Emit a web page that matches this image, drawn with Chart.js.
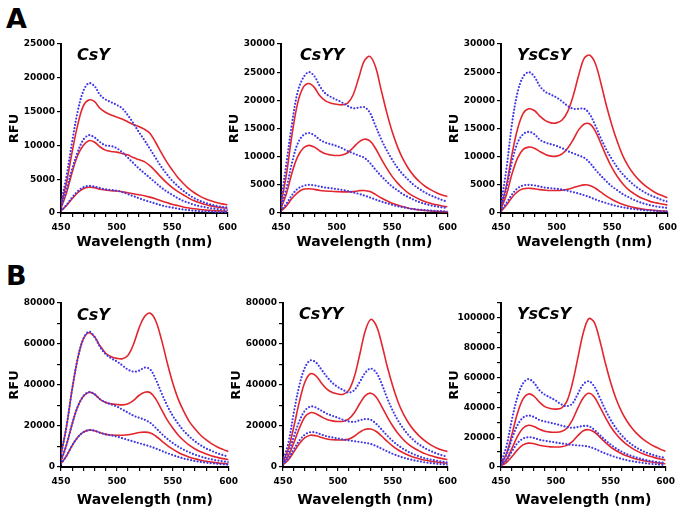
<!DOCTYPE html>
<html>
<head>
<meta charset="utf-8">
<script src="https://cdn.jsdelivr.net/npm/chart.js@4.4.1/dist/chart.umd.min.js"></script>
<style>
  html, body { margin: 0; padding: 0; background: #fff; }
  body { width: 679px; height: 510px; position: relative; overflow: hidden; }
  canvas { position: absolute; }
  .lbl { position: absolute; font-family: "DejaVu Sans", sans-serif; font-weight: bold; line-height: 1; color: #000; white-space: nowrap; }
  .ttl { font-style: italic; font-size: 16px; }
  .panel { font-size: 27px; }
</style>
</head>
<body>
<div class="lbl panel" style="left:6px;top:5px;">A</div>
<div class="lbl panel" style="left:6px;top:262px;">B</div>

<script>
// Wavelength grid (nm)
const wavelengths = [450,455,460,465,470,475,480,485,490,495,500,505,510,515,520,525,530,535,540,545,550,555,560,565,570,575,580,585,590,595,600];
const xTickLabels = [450, 500, 550, 600];
const panelTitles = ["CsY", "CsYY", "YsCsY", "CsY", "CsYY", "YsCsY"];

// ---- Panel A, CsY ----
const aCsY_red1  = [1200,4500,9000,13000,15800,16700,16500,15500,14900,14500,14200,13900,13500,13100,12800,12400,11800,10500,9000,7600,6400,5300,4400,3600,3000,2500,2100,1800,1550,1350,1200];
const aCsY_red2  = [700,3000,6000,8500,10000,10700,10500,9800,9300,9100,9000,8800,8600,8200,7900,7600,7000,6200,5300,4500,3800,3200,2700,2200,1800,1500,1250,1050,900,800,700];
const aCsY_red3  = [300,1100,2100,3000,3600,3800,3750,3500,3400,3300,3250,3150,3000,2850,2700,2550,2350,2100,1800,1550,1300,1100,900,750,620,520,440,380,330,290,260];
const aCsY_blue1 = [1500,5500,10500,15000,18000,19200,18800,17500,16800,16400,16000,15500,14500,13300,12000,10800,9500,8200,6900,5800,4800,4000,3300,2700,2200,1800,1500,1250,1050,900,800];
const aCsY_blue2 = [800,3500,6500,9000,10800,11500,11200,10500,10000,9900,9600,9000,8200,7400,6600,5900,5200,4500,3800,3200,2700,2200,1800,1500,1200,1000,850,700,600,500,450];
const aCsY_blue3 = [300,1200,2300,3200,3800,4000,3900,3700,3500,3400,3300,3100,2800,2500,2200,1900,1650,1400,1150,950,800,650,520,420,340,280,230,190,160,140,120];

// ---- Panel A, CsYY ----
const aCsYY_red1  = [1500,7000,14000,19500,22300,23000,22300,20800,19900,19500,19300,19200,19500,21000,24000,27000,27800,26000,22000,18000,14500,11700,9500,7800,6500,5500,4700,4100,3600,3200,2900];
const aCsYY_red2  = [800,3500,7200,10000,11500,12000,11700,11000,10500,10300,10200,10300,10700,11600,12600,13100,12800,11500,9700,8000,6500,5300,4300,3500,2900,2400,2000,1700,1450,1250,1100];
const aCsYY_red3  = [300,1300,2600,3600,4200,4300,4200,4000,3900,3850,3800,3750,3750,3800,3950,4000,3800,3300,2700,2200,1750,1400,1100,850,680,540,440,360,300,250,200];
const aCsYY_blue1 = [2000,9000,16000,21500,24000,25000,24300,22500,21200,20600,20100,19600,19000,18600,18700,18800,17800,15500,13200,11200,9500,8000,6800,5800,4900,4200,3600,3100,2700,2300,2000];
const aCsYY_blue2 = [1000,4500,9000,12300,13800,14200,13800,13000,12500,12200,11900,11500,11000,10600,10200,9800,8900,7700,6600,5600,4700,4000,3300,2800,2300,1900,1600,1350,1150,1000,900];
const aCsYY_blue3 = [400,1700,3200,4300,4800,5000,4900,4700,4500,4400,4250,4100,3900,3650,3400,3100,2750,2400,2050,1750,1450,1200,1000,830,690,580,490,420,360,310,270];

// ---- Panel A, YsCsY ----
const aYsCsY_red1  = [1000,5000,10500,15000,17700,18500,18200,17200,16400,16000,16000,16500,18000,20800,24500,27500,28000,26500,23000,19000,15500,12500,10000,8200,6800,5700,4800,4100,3500,3100,2700];
const aYsCsY_red2  = [700,3300,7000,9800,11300,11700,11500,10900,10400,10100,10100,10500,11500,13000,14800,15800,15800,14500,12300,10000,8000,6400,5100,4100,3400,2800,2400,2000,1800,1600,1400];
const aYsCsY_red3  = [300,1400,2800,3800,4300,4400,4300,4150,4050,4000,4000,4050,4200,4500,4800,5000,4900,4400,3700,3000,2400,1900,1500,1200,950,770,630,520,430,360,300];
const aYsCsY_blue1 = [1500,8000,16000,21500,24200,25000,24200,22500,21500,21000,20500,19800,19000,18500,18500,18500,17500,15500,13200,11200,9500,8000,6800,5800,4900,4200,3600,3100,2700,2300,2000];
const aYsCsY_blue2 = [1000,4500,9200,12500,14000,14400,14000,13000,12500,12200,11900,11500,11000,10600,10200,9800,8900,7700,6600,5600,4700,4000,3300,2800,2300,1900,1600,1350,1150,1000,900];
const aYsCsY_blue3 = [400,1800,3300,4400,4900,5000,4900,4700,4500,4400,4300,4150,3950,3700,3450,3150,2800,2400,2050,1750,1450,1200,1000,830,690,580,490,420,360,310,270];

// ---- Panel B, CsY ----
const bCsY_red1  = [6000,20000,38000,53000,62500,65500,63500,59000,55500,53800,53000,52800,54500,60000,68000,73500,75000,71000,62000,51000,41000,33000,27000,22000,18500,15500,13200,11300,9800,8600,7500];
const bCsY_red2  = [3000,11000,21000,29500,34500,36500,35500,33000,31500,30800,30500,30300,30800,32500,35000,36500,36200,33000,28000,23000,19000,15500,12800,10500,8800,7400,6300,5400,4700,4100,3600];
const bCsY_red3  = [1500,5500,10500,14500,17000,18000,17700,16700,15900,15600,15500,15500,15700,16200,16800,17000,16600,15000,12800,10600,8700,7100,5800,4800,4000,3300,2800,2400,2000,1750,1500];
const bCsY_blue1 = [6000,20000,38000,53000,62500,66000,63500,58500,55000,53000,51500,49500,47500,46500,47000,48500,47500,42500,36000,30000,25000,21000,17500,14800,12500,10600,9000,7800,6700,5800,5000];
const bCsY_blue2 = [3000,11000,21000,29500,34500,36500,35500,33000,31500,30500,29500,28000,26500,25000,24000,23000,21500,19000,16200,13800,11700,9900,8400,7100,6000,5100,4300,3700,3200,2800,2400];
const bCsY_blue3 = [1500,5500,10500,14500,17000,18000,17700,16700,15900,15400,14800,14000,13200,12400,11600,10800,10000,9000,7900,6800,5800,4900,4100,3500,2900,2500,2100,1800,1550,1350,1150];

// ---- Panel B, CsYY ----
const bCsYY_red1  = [2500,9000,20000,32000,41500,45500,44500,41000,38000,36300,35600,35500,37500,44000,55000,66500,72000,69000,60000,49000,39500,31500,25500,21000,17500,14700,12500,10700,9300,8300,7500];
const bCsYY_red2  = [1500,5500,12000,19000,24500,26500,26000,24500,23200,22500,22200,22300,23500,26500,31000,34800,36000,34000,29500,24500,20000,16200,13200,10800,9000,7600,6400,5500,4700,4100,3600];
const bCsYY_red3  = [1000,3500,7500,11500,14300,15500,15200,14400,13700,13300,13200,13200,13600,15000,17000,18400,18500,17300,15000,12500,10200,8300,6800,5600,4600,3900,3300,2800,2400,2100,1800];
const bCsYY_blue1 = [3000,12000,27000,40000,48500,52000,51000,47500,44000,41000,39000,37500,36300,37500,41500,46000,48000,46000,40500,33500,27500,22500,18500,15200,12600,10600,9000,7700,6600,5700,5000];
const bCsYY_blue2 = [1800,7000,15000,22500,27500,29500,29000,27500,26000,25000,24000,23000,22200,22000,22800,23400,23000,21000,18200,15300,12700,10500,8700,7200,6000,5000,4200,3600,3100,2600,2200];
const bCsYY_blue3 = [1200,4200,8800,13000,15800,17000,16800,15800,15000,14400,13900,13400,13000,12600,12200,11800,11200,10200,8900,7600,6400,5400,4500,3800,3200,2700,2200,1900,1600,1350,1150];

// ---- Panel B, YsCsY ----
const bYsCsY_red1  = [2000,9000,22000,36000,45500,49000,47500,43500,40500,39200,38800,39500,44000,56000,73000,90000,99500,97000,85000,70000,56500,45500,37000,30500,25500,21500,18300,15800,13700,12000,10500];
const bYsCsY_red2  = [1200,5000,12500,20500,26000,28000,27200,25300,24000,23400,23300,23800,26000,31500,39500,46500,49500,47000,40500,33500,27000,22000,18000,14800,12300,10300,8700,7400,6300,5400,4700];
const bYsCsY_red3  = [800,3000,7000,11500,14800,16000,15600,14600,13900,13500,13400,13600,14500,17000,21000,24300,25000,23500,20000,16500,13400,10900,8900,7300,6000,5000,4200,3500,3000,2600,2200];
const bYsCsY_blue1 = [3000,14000,32000,47000,56000,59000,56500,51500,48500,46500,44500,42000,40800,42500,49000,55500,57500,54000,46500,38500,31500,25800,21200,17500,14600,12300,10400,9000,7800,6800,6000];
const bYsCsY_blue2 = [1800,8000,19000,28000,33000,34500,33500,31500,30500,29700,28800,27800,26800,26300,26800,27500,27300,25000,21500,18000,15000,12400,10300,8500,7100,6000,5000,4200,3600,3100,2600];
const bYsCsY_blue3 = [1000,4500,10500,16000,19000,20000,19500,18300,17600,17000,16400,15800,15300,14800,14500,14200,13600,12300,10700,9100,7700,6500,5400,4500,3800,3200,2700,2200,1900,1600,1300];

const RED = '#e3262e';
const BLUE = '#4038e6';
const FONT = '"DejaVu Sans", sans-serif';

function pts(arr) { return wavelengths.map((w, i) => ({x: w, y: arr[i]})); }

function redDs(arr) {
  return { data: pts(arr), borderColor: RED, borderWidth: 1.6, pointRadius: 0, tension: 0.35, fill: false };
}
function blueDs(arr) {
  return { data: pts(arr), borderColor: BLUE, borderWidth: 2.2, borderDash: [0, 3.3], borderCapStyle: 'round', pointRadius: 0, tension: 0.35, fill: false };
}

// plot rectangles in page pixels: left, top, right, bottom
function makePanel(cfg) {
  const padL = 56, padT = 10, padR = 14;
  const plotW = cfg.R - cfg.L, plotH = cfg.B - cfg.T;
  const cw = plotW + padL + padR;
  const ch = plotH + padT + cfg.xh;
  const cv = document.createElement('canvas');
  cv.width = cw; cv.height = ch;
  cv.style.left = (cfg.L - padL) + 'px';
  cv.style.top = (cfg.T - padT) + 'px';
  cv.style.width = cw + 'px'; cv.style.height = ch + 'px';
  document.body.appendChild(cv);

  const t = document.createElement('div');
  t.className = 'lbl ttl';
  t.textContent = cfg.title;
  t.style.left = cfg.tx + 'px';
  t.style.top = (cfg.ty - 8) + 'px';
  document.body.appendChild(t);

  new Chart(cv.getContext('2d'), {
    type: 'line',
    data: { datasets: [
      blueDs(cfg.blue[0]), blueDs(cfg.blue[1]), blueDs(cfg.blue[2]),
      redDs(cfg.red[0]), redDs(cfg.red[1]), redDs(cfg.red[2])
    ] },
    options: {
      responsive: false, animation: false, devicePixelRatio: 1,
      layout: { padding: { left: 0, top: padT, right: padR, bottom: 0 } },
      plugins: { legend: { display: false }, tooltip: { enabled: false } },
      scales: {
        x: {
          type: 'linear', min: 450, max: 600,
          afterFit: s => { s.height = cfg.xh; },
          ticks: { stepSize: 10, autoSkip: false, maxRotation: 0, padding: 5, color: '#000',
                   font: { family: FONT, size: 9, weight: 'bold' },
                   callback: v => xTickLabels.includes(v) ? String(v) : '' },
          grid: { display: true, drawOnChartArea: false, drawTicks: true, tickLength: 4, color: '#000', lineWidth: 1.2 },
          border: { display: true, color: '#000', width: 2 },
          title: { display: true, text: 'Wavelength (nm)', color: '#000',
                   font: { family: FONT, size: 14, weight: 'bold' }, padding: { top: 0, bottom: cfg.xtb } }
        },
        y: {
          type: 'linear', min: 0, max: cfg.ymax,
          afterFit: s => { s.width = padL; },
          ticks: { stepSize: cfg.ystep, autoSkip: false, padding: 2, color: '#000',
                   font: { family: FONT, size: 9, weight: 'bold' },
                   callback: v => (v % cfg.ylab === 0) ? String(v) : '' },
          grid: { display: true, drawOnChartArea: false, drawTicks: true, tickLength: 4, color: '#000', lineWidth: 1.2 },
          border: { display: true, color: '#000', width: 2 },
          title: { display: true, text: 'RFU', color: '#000',
                   font: { family: FONT, size: 13, weight: 'bold' }, padding: { top: 2, bottom: 0 } }
        }
      }
    }
  });
}

const panels = [
  { L: 61,  T: 44,  R: 228, B: 213, xh: 42, xtb: 4, ymax: 25000,  ystep: 5000,  ylab: 5000,  title: panelTitles[0], tx: 77,  ty: 55,
    red: [aCsY_red1, aCsY_red2, aCsY_red3], blue: [aCsY_blue1, aCsY_blue2, aCsY_blue3] },
  { L: 281, T: 44,  R: 448, B: 213, xh: 42, xtb: 4, ymax: 30000,  ystep: 5000,  ylab: 5000,  title: panelTitles[1], tx: 300, ty: 55,
    red: [aCsYY_red1, aCsYY_red2, aCsYY_red3], blue: [aCsYY_blue1, aCsYY_blue2, aCsYY_blue3] },
  { L: 501, T: 44,  R: 668, B: 213, xh: 42, xtb: 4, ymax: 30000,  ystep: 5000,  ylab: 5000,  title: panelTitles[2], tx: 517, ty: 55,
    red: [aYsCsY_red1, aYsCsY_red2, aYsCsY_red3], blue: [aYsCsY_blue1, aYsCsY_blue2, aYsCsY_blue3] },
  { L: 61,  T: 303, R: 229, B: 467, xh: 43, xtb: 1, ymax: 80000,  ystep: 10000, ylab: 20000, title: panelTitles[3], tx: 77,  ty: 315,
    red: [bCsY_red1, bCsY_red2, bCsY_red3], blue: [bCsY_blue1, bCsY_blue2, bCsY_blue3] },
  { L: 283, T: 303, R: 448, B: 467, xh: 43, xtb: 1, ymax: 80000,  ystep: 10000, ylab: 20000, title: panelTitles[4], tx: 299, ty: 314,
    red: [bCsYY_red1, bCsYY_red2, bCsYY_red3], blue: [bCsYY_blue1, bCsYY_blue2, bCsYY_blue3] },
  { L: 501, T: 303, R: 666, B: 467, xh: 43, xtb: 1, ymax: 110000, ystep: 10000, ylab: 20000, title: panelTitles[5], tx: 517, ty: 314,
    red: [bYsCsY_red1, bYsCsY_red2, bYsCsY_red3], blue: [bYsCsY_blue1, bYsCsY_blue2, bYsCsY_blue3] }
];

panels.forEach(makePanel);
</script>
</body>
</html>
